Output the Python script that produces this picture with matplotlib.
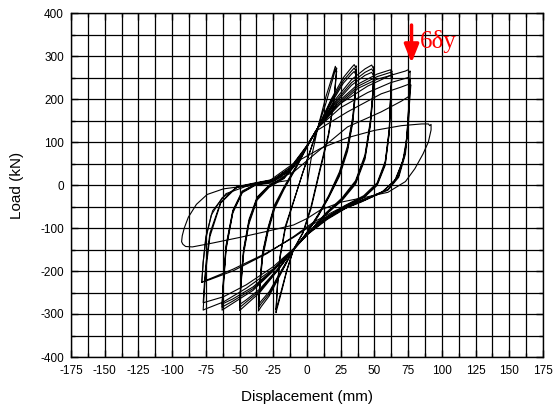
import matplotlib
matplotlib.use("Agg")
import matplotlib.pyplot as plt
from matplotlib.ticker import MultipleLocator

# ---- data (displacement mm, load kN) ----
disp_25 = [0, 3, 8, 14, 19, 21, 21.8, 22, 20, 16, 9, 3, -3, -10, -15, -19, -22, -23, -22, -20, -16, -10, -3, 3, 8,
           14, 19, 21, 21.8, 22, 20, 16, 9, 3, -3, -10, -15, -19, -22, -23, -22, -20, -16, -10, -3, 3, 8]
load_25 = [0, 60, 133, 205, 255, 276, 268, 272, 200, 120, 30, -50, -110, -150, -200, -250, -285, -297, -240, -170, -100, -40, 30, 85, 133,
           190, 245, 268, 262, 265, 195, 115, 25, -55, -112, -150, -198, -245, -280, -290, -235, -165, -95, -38, 30, 85, 133]

disp_37 = [8, 18, 27, 33, 35, 36, 36.5, 36, 34, 30, 24, 16, 8, 0, -10, -20, -28, -34, -36, -35, -33, -29, -24, -17, -8, 0, 8,
           18, 27, 33, 35, 36, 36.5, 36, 34, 30, 24, 16, 8, 0, -10, -20, -28, -34, -36, -35, -33, -29, -24, -17, -8, 0, 8,
           18, 27, 33, 35, 36, 36.5, 36, 34, 30, 24, 16, 8, 0, -10, -20, -28, -34, -36, -35, -33, -29, -24, -17, -8, 0, 8]
load_37 = [133, 200, 250, 273, 280, 274, 277, 230, 160, 90, 30, -25, -70, -110, -150, -210, -258, -283, -293, -240, -170, -110, -55, -10, 40, 88, 133,
           195, 243, 265, 272, 266, 269, 222, 152, 84, 25, -28, -72, -111, -150, -207, -253, -276, -285, -232, -163, -104, -50, -7, 42, 90, 133,
           190, 237, 258, 264, 258, 261, 215, 146, 78, 20, -30, -74, -112, -150, -204, -248, -270, -278, -226, -158, -100, -46, -4, 44, 92, 133]

disp_50 = [8, 20, 33, 43, 48, 49, 49.5, 49, 47, 43, 36, 26, 14, 2, -10, -22, -35, -45, -50, -49, -47, -43, -37, -28, -17, -5, 2, 8,
           20, 33, 43, 48, 49, 49.5, 49, 47, 43, 36, 26, 14, 2, -10, -22, -35, -45, -50, -49, -47, -43, -37, -28, -17, -5, 2, 8,
           20, 33, 43, 48, 49, 49.5, 49, 47, 43, 36, 26, 14, 2, -10, -22, -35, -45, -50, -49, -47, -43, -37, -28, -17, -5, 2, 8]
load_50 = [133, 195, 245, 270, 279, 272, 275, 225, 150, 70, 10, -30, -65, -108, -150, -200, -250, -278, -292, -235, -160, -90, -35, -5, 15, 60, 100, 133,
           190, 238, 262, 270, 264, 267, 218, 144, 65, 6, -33, -67, -109, -150, -198, -246, -272, -285, -228, -154, -85, -31, -2, 17, 62, 101, 133,
           186, 232, 255, 262, 256, 259, 210, 138, 60, 2, -36, -69, -110, -150, -196, -242, -267, -278, -222, -149, -80, -28, 0, 19, 64, 102, 133]

disp_62 = [8, 22, 38, 52, 60, 62, 62.5, 63, 62, 61, 58, 52, 42, 28, 14, 0, -10, -25, -40, -55, -63, -62, -60, -55, -48, -38, -25, -12, 0, 8,
           22, 38, 52, 60, 62, 62.5, 63, 62, 61, 58, 52, 42, 28, 14, 0, -10, -25, -40, -55, -63, -62, -60, -55, -48, -38, -25, -12, 0, 8,
           22, 38, 52, 60, 62, 62.5, 63, 62, 61, 58, 52, 42, 28, 14, 0, -10, -25, -40, -55, -63, -62, -60, -55, -48, -38, -25, -12, 0, 8]
load_62 = [133, 190, 235, 258, 266, 268, 262, 265, 210, 130, 55, 5, -25, -48, -75, -112, -150, -200, -245, -275, -291, -235, -150, -65, -18, 0, 8, 35, 90, 133,
           186, 230, 252, 260, 262, 256, 259, 205, 125, 50, 2, -28, -50, -77, -113, -150, -198, -241, -270, -284, -228, -145, -62, -16, 1, 9, 36, 91, 133,
           182, 225, 246, 253, 255, 249, 252, 198, 120, 46, -1, -30, -52, -79, -114, -150, -196, -237, -265, -277, -222, -140, -59, -14, 2, 10, 37, 92, 133]

disp_75 = [8, 25, 45, 62, 73, 75, 76, 76.5, 76, 75, 73, 68, 60, 45, 30, 15, 0, -10, -25, -45, -62, -75, -77, -76, -75, -72, -64, -52, -40, -25, -12, 0, 8,
           25, 45, 62, 73, 75, 76, 76.5, 76, 75, 73, 68, 60, 45, 30, 15, 0, -10, -25, -45, -62, -75, -77, -76, -75, -72, -64, -52, -40, -25, -12, 0, 8,
           30, 55, 70, 76, 76.5, 77, 76, 75, 72, 66, 56, 40, 22, 5, -10, -30, -55, -72, -78, -77, -75, -71, -63, -52, -40, -25, -10, 5,
           30, 55, 70, 75, 75.5, 76, 75, 74, 71, 65, 55, 40, 22, 5, -10, -30, -55, -72, -78]
load_75 = [133, 190, 230, 255, 265, 268, 262, 265, 220, 150, 80, 22, -10, -30, -50, -78, -115, -150, -195, -240, -272, -288, -291, -240, -198, -120, -42, -5, 3, 12, 40, 90, 133,
           180, 215, 238, 248, 250, 245, 248, 205, 140, 72, 18, -12, -32, -52, -80, -116, -148, -190, -232, -260, -272, -274, -225, -185, -112, -40, -4, 4, 13, 42, 92, 128,
           170, 212, 228, 235, 230, 233, 190, 128, 65, 14, -16, -36, -58, -86, -120, -160, -200, -220, -226, -180, -125, -70, -30, -6, 2, 10, 30, 70,
           135, 170, 195, 205, 200, 202, 165, 110, 55, 10, -18, -40, -62, -90, -122, -158, -196, -218, -226]

disp_fin = [-78, -77, -75, -70, -60, -45, -30, -10, 10, 30, 50, 70, 85, 90, 91, 92, 92, 90, 86, 80, 73, 60, 44, 25, 10, 0, -10, -30, -50, -70, -85, -90, -92, -93,
            -92.5, -91, -88, -82, -74, -62, -45, -30, -15]
load_fin = [-226, -180, -120, -60, -20, -3, 5, 50, 85, 110, 127, 138, 142, 142, 138, 141, 128, 100, 72, 38, 8, -17, -28, -40, -58, -78, -93, -108, -122, -135, -144, -143, -138, -132,
            -118, -100, -75, -45, -22, -9, -2, 3, 10]

x_ticks = [-175, -150, -125, -100, -75, -50, -25, 0, 25, 50, 75, 100, 125, 150, 175]
y_ticks = [-400, -300, -200, -100, 0, 100, 200, 300, 400]

arrow_x = 77.5
arrow_top = 372
arrow_tip = 284
label_x = 83.5
label_y = 318
label_text = "6δy"

# ---- figure ----
plt.rcParams['font.family'] = ['Liberation Sans', 'DejaVu Sans']
fig = plt.figure(figsize=(5.58, 4.12), dpi=100)
ax = fig.add_axes([71/558, 55/412, 472/558, 344/412])

ax.set_xlim(-175, 175)
ax.set_ylim(-400, 400)
ax.xaxis.set_minor_locator(MultipleLocator(12.5))
ax.yaxis.set_minor_locator(MultipleLocator(50))
ax.set_xticks(x_ticks)
ax.set_yticks(y_ticks)
ax.set_xticklabels([str(v) for v in x_ticks])
ax.set_yticklabels([str(v) for v in y_ticks])

ax.grid(True, which='both', color='black', linewidth=0.9)
ax.set_axisbelow(True)
ax.tick_params(which='both', direction='in', top=True, right=True, colors='black', labelsize=8.5)
ax.tick_params(axis='x', which='major', pad=6)
ax.tick_params(axis='y', which='major', pad=5)
ax.tick_params(which='major', length=5, width=1.0)
ax.tick_params(which='minor', length=3, width=1.0)
for s in ax.spines.values():
    s.set_linewidth(1.0)

for xs, ys in [(disp_25, load_25), (disp_37, load_37), (disp_50, load_50),
               (disp_62, load_62), (disp_75, load_75), (disp_fin, load_fin)]:
    ax.plot(xs, ys, color='black', linewidth=0.8)

ax.annotate('', xy=(arrow_x, arrow_tip), xytext=(arrow_x, arrow_top),
            arrowprops=dict(arrowstyle='-|>,head_width=0.22,head_length=0.55',
                            mutation_scale=20, color='red', lw=2.5, shrinkA=0, shrinkB=0))
ax.text(label_x, label_y, label_text, color='red', fontsize=18,
        family=['Liberation Serif', 'DejaVu Serif'], va='baseline', ha='left')

ax.set_xlabel('Displacement (mm)', fontsize=11, labelpad=9)
ax.set_ylabel('Load (kN)', fontsize=11, labelpad=12)

fig.savefig('out.png', dpi=100)
